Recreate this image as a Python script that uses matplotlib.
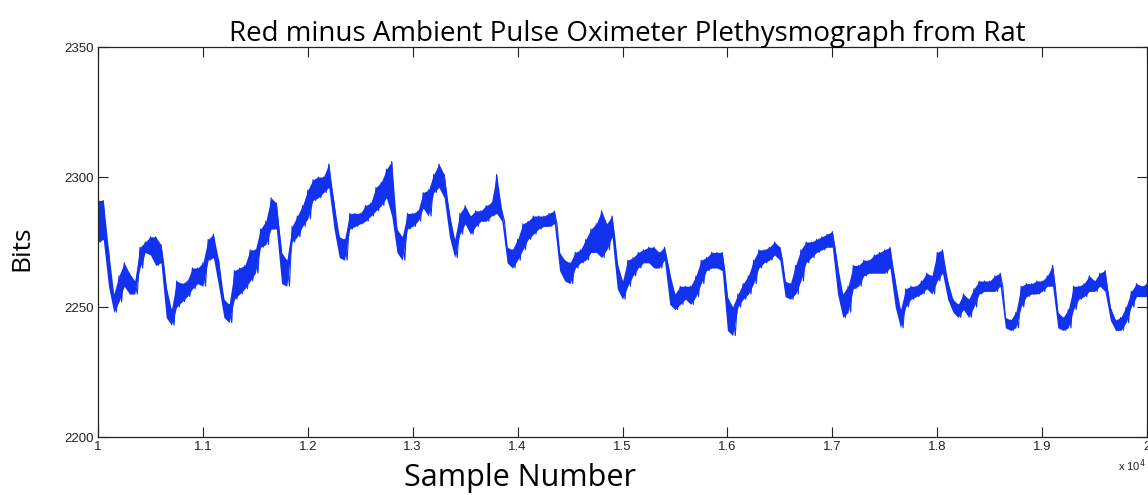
import numpy as np
import matplotlib
matplotlib.use("Agg")
import matplotlib.pyplot as plt

# sample index (every 50 samples) and the upper / lower edge of the noisy trace
sample_num = np.arange(10000, 20001, 50)

bits_hi = [
    2291, 2291, 2272, 2255, 2262, 2267, 2263, 2260, 2273, 2275,
    2277, 2277, 2274, 2258, 2249, 2260, 2259, 2260, 2265, 2265,
    2267, 2276, 2278, 2268, 2253, 2251, 2264, 2265, 2266, 2272,
    2272, 2280, 2283, 2292, 2290, 2271, 2268, 2281, 2285, 2289,
    2295, 2299, 2300, 2300, 2305, 2290, 2277, 2276, 2286, 2286,
    2286, 2289, 2290, 2296, 2298, 2303, 2306, 2280, 2277, 2286,
    2286, 2287, 2294, 2295, 2301, 2305, 2301, 2286, 2276, 2286,
    2289, 2285, 2287, 2287, 2289, 2290, 2301, 2287, 2273, 2272,
    2276, 2282, 2283, 2285, 2285, 2285, 2286, 2287, 2271, 2268,
    2267, 2271, 2272, 2276, 2280, 2282, 2287, 2282, 2285, 2267,
    2260, 2268, 2269, 2271, 2272, 2273, 2273, 2271, 2273, 2263,
    2255, 2258, 2258, 2258, 2262, 2268, 2269, 2271, 2271, 2271,
    2254, 2250, 2255, 2259, 2262, 2268, 2272, 2272, 2273, 2275,
    2273, 2260, 2259, 2266, 2272, 2275, 2275, 2276, 2277, 2278,
    2279, 2266, 2255, 2258, 2266, 2266, 2268, 2268, 2270, 2271,
    2272, 2273, 2260, 2249, 2257, 2258, 2258, 2260, 2263, 2262,
    2271, 2272, 2260, 2253, 2251, 2255, 2253, 2257, 2260, 2260,
    2260, 2262, 2263, 2246, 2245, 2248, 2258, 2259, 2259, 2260,
    2260, 2262, 2266, 2248, 2246, 2249, 2258, 2258, 2259, 2262,
    2260, 2263, 2264, 2250, 2245, 2246, 2250, 2256, 2259, 2258,
    2259,
]

bits_lo = [
    2275, 2276, 2258, 2248, 2252, 2258, 2255, 2255, 2265, 2271,
    2270, 2266, 2267, 2246, 2243, 2250, 2252, 2254, 2257, 2259,
    2258, 2268, 2269, 2258, 2246, 2244, 2253, 2255, 2257, 2260,
    2263, 2273, 2274, 2280, 2280, 2259, 2258, 2275, 2277, 2281,
    2284, 2291, 2292, 2294, 2296, 2280, 2269, 2268, 2280, 2281,
    2282, 2283, 2285, 2287, 2289, 2292, 2285, 2271, 2268, 2280,
    2281, 2283, 2288, 2285, 2294, 2296, 2292, 2277, 2269, 2278,
    2282, 2278, 2281, 2283, 2283, 2285, 2286, 2283, 2267, 2265,
    2268, 2272, 2276, 2278, 2280, 2281, 2281, 2282, 2264, 2260,
    2259, 2265, 2267, 2268, 2271, 2271, 2269, 2272, 2277, 2257,
    2253, 2258, 2262, 2265, 2267, 2267, 2265, 2265, 2268, 2251,
    2249, 2251, 2253, 2251, 2254, 2259, 2264, 2265, 2265, 2264,
    2241, 2239, 2250, 2253, 2255, 2259, 2265, 2267, 2268, 2270,
    2268, 2254, 2253, 2255, 2260, 2267, 2269, 2271, 2272, 2273,
    2273, 2255, 2246, 2248, 2257, 2258, 2262, 2263, 2263, 2263,
    2263, 2265, 2250, 2242, 2250, 2253, 2254, 2255, 2257, 2255,
    2260, 2263, 2253, 2248, 2246, 2249, 2246, 2250, 2255, 2256,
    2256, 2256, 2258, 2242, 2241, 2242, 2250, 2254, 2255, 2255,
    2256, 2258, 2258, 2242, 2241, 2242, 2249, 2253, 2254, 2256,
    2256, 2258, 2256, 2245, 2241, 2241, 2244, 2250, 2254, 2254,
    2254,
]

x_ticks = np.arange(10000, 20001, 1000)
x_tick_labels = ['1', '1.1', '1.2', '1.3', '1.4', '1.5', '1.6', '1.7', '1.8', '1.9', '2']
y_ticks = [2200, 2250, 2300, 2350]

line_color = '#1232f0'

fig = plt.figure(figsize=(11.48, 4.95), dpi=100)
ax = fig.add_axes([98 / 1148, 1 - 437 / 495, 1049 / 1148, 390 / 495])

# the raw trace jumps between its upper and lower edge; band plus a zigzag through both edges
zig_x = np.empty(2 * len(sample_num) - 1)
zig_y = np.empty(2 * len(sample_num) - 1)
zig_x[0::2] = sample_num
zig_y[0::2] = bits_hi
zig_x[1::2] = sample_num[:-1] + 25
zig_y[1::2] = bits_lo[:-1]
ax.fill_between(sample_num, bits_lo, bits_hi, color=line_color, linewidth=0)
ax.plot(zig_x, zig_y, color=line_color, linewidth=0.8)

ax.set_xlim(10000, 20000)
ax.set_ylim(2200, 2350)
ax.set_xticks(x_ticks)
ax.set_xticklabels(x_tick_labels)
ax.set_yticks(y_ticks)
ax.tick_params(direction='in', length=7, width=0.8, top=True, right=True,
               labelsize=9.5, colors='#222222', pad=3)
for lab in ax.get_xticklabels() + ax.get_yticklabels():
    lab.set_family('Liberation Sans')
for sp in ax.spines.values():
    sp.set_linewidth(0.9)
    sp.set_color('#222222')

title_font = ['Open Sans', 'DejaVu Sans']
ax.set_title('Red minus Ambient Pulse Oximeter Plethysmograph from Rat',
             fontsize=20, family=title_font, pad=4, x=0.505)
ax.set_xlabel('Sample Number', fontsize=22, family=title_font)
ax.xaxis.set_label_coords(0.402, -0.105)
ax.xaxis.label.set_va('center')
ax.set_ylabel('Bits', fontsize=19, family=title_font)
ax.yaxis.set_label_coords(-0.0725, 0.485)
ax.yaxis.label.set_va('center')

fig.text(1118 / 1148, 1 - 466 / 495, r'x 10$^4$', fontsize=8, family='Liberation Sans',
         va='center', ha='left', color='#222222')

fig.savefig('out.png', dpi=100)
